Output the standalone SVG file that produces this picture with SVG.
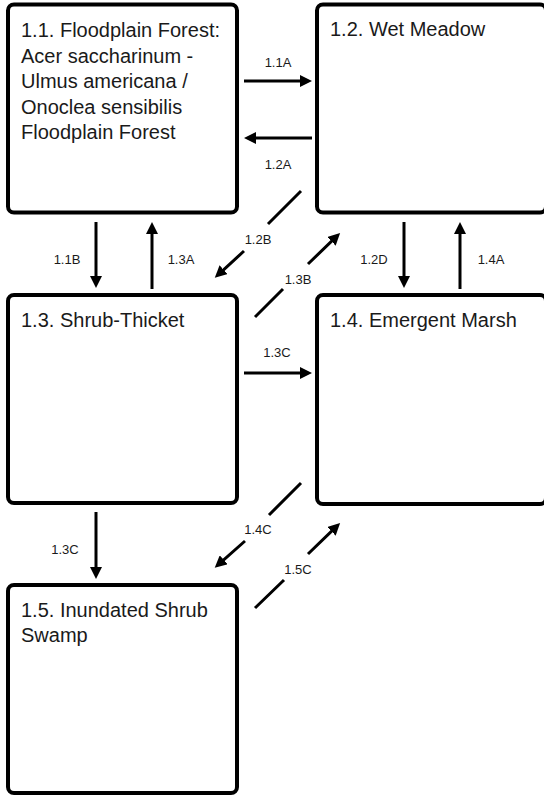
<svg xmlns="http://www.w3.org/2000/svg" width="544" height="796" viewBox="0 0 544 796">
<style>
.box{fill:#fff;stroke:#000;stroke-width:4}
.t{font-family:"Liberation Sans",Arial,sans-serif;font-size:20px;fill:#1a1a1a}
.lbl{font-family:"Liberation Sans",Arial,sans-serif;font-size:13px;fill:#1a1a1a;text-anchor:middle}
.c{fill:none;stroke:#000;stroke-width:3}
</style>
<defs>
<marker id="ah" markerUnits="userSpaceOnUse" markerWidth="12" markerHeight="12" refX="6" refY="6" orient="auto">
<path d="M0,0 L12,6 L0,12 z" fill="#000"/>
</marker>
</defs>
<rect width="544" height="796" fill="#fff"/>
<g id="n11">
<rect class="box" x="8" y="4.5" width="229" height="208" rx="6"/>
<text class="t" x="21" y="37">1.1. Floodplain Forest:</text>
<text class="t" x="21" y="63">Acer saccharinum -</text>
<text class="t" x="21" y="88">Ulmus americana /</text>
<text class="t" x="21" y="114">Onoclea sensibilis</text>
<text class="t" x="21" y="139">Floodplain Forest</text>
</g>
<g id="n12">
<rect class="box" x="317" y="4.5" width="229" height="208" rx="6"/>
<text class="t" x="330" y="36">1.2. Wet Meadow</text>
</g>
<g id="n13">
<rect class="box" x="8" y="295" width="229" height="208" rx="6"/>
<text class="t" x="21" y="327">1.3. Shrub-Thicket</text>
</g>
<g id="n14">
<rect class="box" x="317" y="295" width="229" height="209" rx="6"/>
<text class="t" x="330" y="327">1.4. Emergent Marsh</text>
</g>
<g id="n15">
<rect class="box" x="8" y="585" width="229" height="208" rx="6"/>
<text class="t" x="21" y="617">1.5. Inundated Shrub</text>
<text class="t" x="21" y="642">Swamp</text>
</g>
<g id="connectors">
<path class="c" d="M244,81 L306,81" marker-end="url(#ah)"/>
<path class="c" d="M312,138 L250,138" marker-end="url(#ah)"/>
<path class="c" d="M96,222 L96,282" marker-end="url(#ah)"/>
<path class="c" d="M152,289 L152,228" marker-end="url(#ah)"/>
<path class="c" d="M404,222 L404,282" marker-end="url(#ah)"/>
<path class="c" d="M460,289 L460,228" marker-end="url(#ah)"/>
<path class="c" d="M244,373 L306,373" marker-end="url(#ah)"/>
<path class="c" d="M96,512 L96,573" marker-end="url(#ah)"/>
<path class="c" d="M301,191 L268,224 M244,251 L219.2,273.8" marker-end="url(#ah)"/>
<path class="c" d="M255,317 L283,289 M308,264 L335.8,237.2" marker-end="url(#ah)"/>
<path class="c" d="M301,483 L269,515 M245,541 L219.2,563.8" marker-end="url(#ah)"/>
<path class="c" d="M255,608 L284,580 M308,554 L335.8,527.2" marker-end="url(#ah)"/>
<text class="lbl" x="278" y="67">1.1A</text>
<text class="lbl" x="278" y="169">1.2A</text>
<text class="lbl" x="67" y="264">1.1B</text>
<text class="lbl" x="181" y="264">1.3A</text>
<text class="lbl" x="258" y="244">1.2B</text>
<text class="lbl" x="298" y="284">1.3B</text>
<text class="lbl" x="374" y="264">1.2D</text>
<text class="lbl" x="491" y="264">1.4A</text>
<text class="lbl" x="277" y="357">1.3C</text>
<text class="lbl" x="65" y="554">1.3C</text>
<text class="lbl" x="258" y="534">1.4C</text>
<text class="lbl" x="298" y="574">1.5C</text>
</g>
</svg>
